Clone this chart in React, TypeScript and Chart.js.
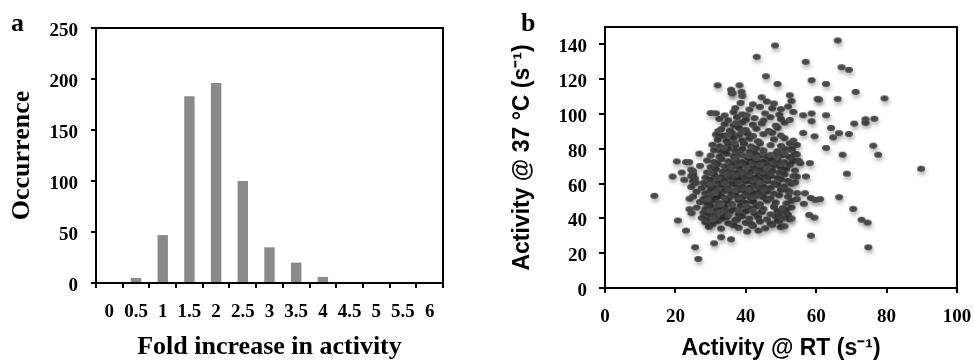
import React, { useLayoutEffect, useRef, useState } from 'react';
import { Chart, registerables } from 'chart.js';

Chart.register(...registerables);

// ---------- Panel a: histogram ----------
const foldCategories = ['0', '0.5', '1', '1.5', '2', '2.5', '3', '3.5', '4', '4.5', '5', '5.5', '6'];
const occurrence = [0, 5, 47, 183, 196, 100, 35, 20, 6, 0, 0, 0, 0];

// ---------- Panel b: scatter (Activity @ RT, Activity @ 37 °C) ----------
const outlierPoints: [number, number][] = [
  [14, 53], [48.3, 139.4], [43.1, 132.9], [66.1, 142.3], [57, 130], [67.2, 126.9], [69.3, 125.4],
  [45.7, 121.7], [32, 116.5], [49, 117.3], [58.7, 119.4], [62.8, 117.3], [71.2, 112.7], [79.4, 109],
  [89.8, 68.5], [76.5, 97.3], [74, 95], [74, 97], [70.8, 94.5], [66.1, 108.7], [69.3, 88.5], [66.5, 89],
  [64.2, 92], [64.8, 86.6], [62.8, 99.3], [60.4, 108.7], [60.8, 108.3], [62.8, 80.5], [67.5, 76.6],
  [76.2, 81.8], [77.6, 76.6], [68.7, 65.7], [66.5, 52.2], [70.5, 45.5], [72.9, 39.2], [74.6, 37.6],
  [74.8, 23.4], [58.7, 100.3], [58.7, 95.8], [59.5, 87.2], [56.3, 89.1], [58.2, 71.8], [57.1, 64.1],
  [58.5, 51.7], [59.7, 50.7], [61.1, 51.1], [58, 42], [59.5, 40.5], [58.5, 30.1], [54.6, 54.5],
  [56.8, 54.5], [56.5, 48.4], [54.5, 51.1], [52.4, 39.6], [49.9, 35], [43.6, 33], [40.4, 32.4],
  [33, 29.2], [35.8, 28], [31, 25.7], [25.6, 23.4], [26.5, 16.7], [20.4, 72.8], [19.2, 64.1],
  [21.8, 66.4], [22.5, 62.2], [20.7, 38.8], [23, 33], [24, 51.3], [24, 45.3], [24.6, 43], [23, 72.4],
  [23.9, 72.4], [26.8, 77.2], [56.3, 99.3], [24.5, 68], [25, 65.5], [25.5, 63], [25.8, 60.5],
  [53, 80], [54, 77], [53.5, 73], [55.5, 71.8], [54.5, 64], [53, 60], [52, 56], [51.5, 45], [52, 42],
  [50, 43], [49.5, 38.5], [53, 40], [35.8, 114], [36.2, 112], [38.2, 116.5], [38.8, 112.7],
];

const clusterPoints: [number, number][] = [
  [29.5, 35.2], [33, 34.1], [36.5, 36], [38, 34.6], [42, 35.8], [45.5, 34.3], [47.5, 36.4], [51, 35.5],
  [28.5, 37.8], [30.5, 36.6], [32, 38.4], [35, 37.2], [37, 38.9], [40, 37.4], [41.5, 36.8], [44, 38.2], [47, 37.1], [49, 38.6],
  [27.5, 40.3], [29, 39.2], [31, 41.1], [33, 39.6], [34.5, 40.8], [37.5, 39.5], [39, 41.3], [41, 39.8], [43.5, 40.6], [46, 39.4], [48.5, 41.2], [50.5, 40.1],
  [28, 43.2], [29.5, 42.1], [31.5, 44.3], [33.5, 42.6], [35.5, 43.9], [38, 42.4], [40, 44.1], [42.5, 42.8], [44.5, 43.7], [47, 42.3], [49, 44.2], [51, 43.1],
  [26, 46.2], [28.5, 45.3], [30, 47.1], [32, 45.6], [34, 46.8], [36.5, 45.2], [38.5, 47.3], [41, 45.8], [43, 46.9], [45, 45.4], [48, 46.6], [50.5, 45.9], [53, 46.3],
  [27, 49.4], [29, 48.3], [30.5, 50.2], [32.5, 48.7], [34.5, 49.9], [36, 48.2], [38, 50.4], [40, 48.9], [42, 49.6], [44, 48.1], [46, 50.3], [48.5, 49.1], [51.5, 48.6], [53, 50.1],
  [25, 52.6], [28, 51.4], [29.5, 53.2], [31.5, 51.8], [33, 52.9], [35, 51.3], [37, 53.4], [39, 52.1], [41.5, 51.6], [43, 53.1], [45, 52.2], [47, 51.5], [49.5, 53.3], [52, 52.4],
  [26, 55.3], [28.5, 54.4], [30, 56.2], [32, 54.8], [34, 55.9], [36, 54.3], [38, 56.4], [40, 55.1], [42, 54.6], [44, 56.1], [46, 55.4], [48, 54.2], [50, 56.3], [52.5, 55.2],
  [24.5, 58.1], [27.5, 57.4], [29.5, 59.2], [31, 57.8], [33, 58.9], [35, 57.3], [37, 59.4], [39, 58.1], [41, 57.6], [43, 59.1], [45, 58.2], [47, 57.5], [49, 59.3], [51, 58.4],
  [25, 61.2], [28, 60.4], [30, 62.1], [32, 60.8], [34, 61.9], [36, 60.3], [38, 62.4], [40, 61.1], [42, 60.6], [44, 62.1], [46, 61.4], [48, 60.2], [50, 62.3], [52, 61.5], [54, 60.7],
  [24.5, 64.3], [28.5, 63.4], [31, 65.2], [33, 63.8], [35, 64.9], [37, 63.3], [39, 65.4], [41, 64.1], [43, 63.6], [45, 65.1], [47, 64.4], [49, 63.2], [51, 65.3], [53.5, 64.2],
  [25, 67.1], [29, 66.4], [31.5, 68.2], [33.5, 66.8], [35.5, 67.9], [37.5, 66.3], [39.5, 68.4], [41.5, 67.1], [43.5, 66.6], [45.5, 68.1], [47.5, 67.4], [49.5, 66.2], [51.5, 68.3], [54, 67.5],
  [27, 70.2], [30, 69.4], [32, 71.2], [34, 69.8], [36, 70.9], [38, 69.3], [40, 71.4], [42, 70.1], [44, 69.6], [46, 71.1], [48, 70.4], [50, 69.2], [52.5, 70.8],
  [29, 73.3], [31, 72.4], [33, 74.2], [35, 72.8], [37, 73.9], [39, 72.3], [41, 74.4], [43, 73.1], [45, 72.6], [47, 74.1], [49, 73.4], [51, 72.2], [53, 74.3], [55, 73.1],
  [30, 76.1], [32.5, 75.4], [34.5, 77.2], [36.5, 75.8], [38.5, 76.9], [40.5, 75.3], [42.5, 77.4], [44, 76.1], [46, 75.6], [48.5, 77.1], [50.5, 76.4], [52.5, 75.2], [54.5, 76.8],
  [31, 79.2], [33, 78.4], [35, 80.1], [37, 78.8], [39, 79.9], [41, 78.3], [43, 80.2], [45, 79.1], [49, 78.6], [51, 80.1], [53, 79.4],
  [30.5, 82.3], [32.5, 81.4], [35, 83.1], [37, 81.8], [39.5, 82.9], [41.5, 81.3], [44, 83.2], [47, 82.1], [50, 81.6], [52.5, 83.1], [54.5, 82.2],
  [32, 85.1], [34.5, 84.4], [36.5, 86.2], [39, 84.8], [41, 85.9], [43.5, 84.3], [48, 85.4], [51, 86.1], [53.5, 84.7],
  [31.5, 88.2], [33.5, 87.4], [36, 89.1], [38, 87.8], [40.5, 88.9], [42, 87.3], [45, 88.4], [47.5, 89.2], [50, 87.6],
  [33, 91.3], [35.5, 90.4], [38, 92.1], [40, 90.8], [43, 91.6], [46.5, 90.3], [49, 92.2],
  [34, 94.1], [36.5, 93.4], [39, 95.2], [42, 93.8], [44.5, 94.6], [48.5, 93.3], [51, 95.1],
  [32.5, 97.2], [35, 96.4], [37.5, 98.1], [40, 96.8], [42.5, 97.6], [45, 96.3], [47, 98.2], [50, 97.1], [52.5, 96.6],
  [30, 100.6], [31.5, 100.4], [34, 99.2], [36.5, 101.1], [39, 99.8], [45.5, 100.3], [49.5, 99.6], [53.5, 101.2],
  [37, 103.4], [41, 102.6], [44, 104.1], [47.5, 103.2], [50, 102.8], [52, 104.3],
  [38.5, 106.3], [42, 105.6], [46, 107.2], [48, 106.1], [53, 107.4],
  [36, 112.1], [39, 110.4], [44.5, 109.6], [52.5, 110.8],
  [34, 51.8], [36, 53.2], [38, 51.9], [40, 53.6], [42, 52.4], [44, 53.9], [35, 57.1], [37, 56.2], [39, 57.3],
  [41, 56.4], [43, 57.8], [45, 56.6], [34, 60.2], [36, 62.6], [38, 60.5], [40, 62.8], [42, 61.9], [44, 60.4],
  [46, 62.7], [35, 65.6], [37, 64.8], [39, 66.2], [41, 65.3], [43, 67.7], [45, 66.5], [47, 65.8], [36, 69.1],
  [38, 71.6], [40, 68.9], [42, 71.7], [44, 70.8], [46, 68.7], [48, 72.1], [50, 71.3], [37, 74.6], [39, 76.2],
  [41, 75.9], [43, 74.8], [45, 77.3], [47, 76.5], [49, 74.9], [51, 77.5], [32, 47.5], [34, 44.8], [36, 47.9],
  [38, 44.6], [40, 47.1], [42, 44.2], [30, 53.9], [32, 56.7], [30, 59.6], [32, 63.1], [30, 66.2], [31, 42.7],
  [33, 48.2], [35, 41.9], [29.8, 44.6], [30.8, 39.8], [32.8, 43.5], [29.2, 50.8], [31.2, 54.6], [33.8, 80.6],
  [34.8, 87.9], [32.2, 90.2], [36.8, 83.5], [38.8, 89.7], [37.2, 94.8], [40.2, 99.3],
];

const SERIF = '"Liberation Serif", "Times New Roman", serif';
const SANS = '"Liberation Sans", Arial, sans-serif';
const CANVAS_H = 360;

// Layout of each panel (padding and fixed axis sizes handed to Chart.js)
const LAYOUT_A = { width: 490, padRight: 47, padTop: 28, yAxisWidth: 96, xAxisHeight: 77, lw: 2, xTick: 5, yTick: 5 };
const LAYOUT_B = { width: 483, padRight: 16, padTop: 27, yAxisWidth: 115, xAxisHeight: 72, lw: 2.5, xTick: 5, yTick: 6 };

type Layout = typeof LAYOUT_A;
type TickGeom = { bottom: number; left: number; xT: number[]; yT: number[] };

function readTicks(chart: any, categoryX: boolean): TickGeom {
  const ca = chart.chartArea;
  const xs = chart.scales.x;
  const ys = chart.scales.y;
  const xT: number[] = [];
  if (categoryX) {
    for (let i = 0; i <= xs.ticks.length; i++) xT.push(xs.getPixelForValue(i - 0.5));
  } else {
    xs.ticks.forEach((_t: any, i: number) => xT.push(xs.getPixelForTick(i)));
  }
  const yT: number[] = ys.ticks.map((_t: any, i: number) => ys.getPixelForTick(i));
  return { bottom: ca.bottom, left: ca.left, xT, yT };
}

function Frame({ L }: { L: Layout }) {
  const left = L.yAxisWidth;
  const top = L.padTop;
  const right = L.width - L.padRight;
  const bottom = CANVAS_H - L.xAxisHeight;
  return (
    <div
      style={{
        position: 'absolute',
        left: left - L.lw / 2,
        top: top - L.lw / 2,
        width: right - left + L.lw,
        height: bottom - top + L.lw,
        border: `${L.lw}px solid #000`,
        boxSizing: 'border-box',
        pointerEvents: 'none',
      }}
    />
  );
}

function TickMarks({ g, L }: { g: TickGeom; L: Layout }) {
  return (
    <>
      {g.yT.map((py, i) => (
        <div key={'y' + i} style={{ position: 'absolute', left: g.left - L.yTick, top: py - 1, width: L.yTick, height: 2, background: '#000' }} />
      ))}
      {g.xT.map((px, i) => (
        <div key={'x' + i} style={{ position: 'absolute', left: px - 1, top: g.bottom, width: 2, height: L.xTick, background: '#000' }} />
      ))}
    </>
  );
}

function tickFont(size: number) {
  return { family: SERIF, weight: 'bold' as const, size };
}

function HistogramChart() {
  const ref = useRef<HTMLCanvasElement | null>(null);
  const [ticks, setTicks] = useState<TickGeom | null>(null);
  const L = LAYOUT_A;
  useLayoutEffect(() => {
    if (!ref.current) return;
    const chart = new Chart(ref.current, {
      type: 'bar',
      data: {
        labels: foldCategories,
        datasets: [{ data: occurrence, backgroundColor: '#8a8a8a', categoryPercentage: 1, barPercentage: 0.39 }],
      },
      options: {
        animation: false,
        responsive: false,
        maintainAspectRatio: false,
        layout: { padding: { left: 0, right: L.padRight, top: L.padTop, bottom: 0 } },
        plugins: { legend: { display: false }, tooltip: { enabled: false } },
        scales: {
          x: {
            grid: { display: false, drawTicks: false },
            border: { display: false },
            ticks: { color: '#000', font: tickFont(19), padding: 18, maxRotation: 0, minRotation: 0, autoSkip: false },
            title: {
              display: true,
              text: 'Fold increase in activity',
              color: '#000',
              font: { family: SERIF, weight: 'bold', size: 26, lineHeight: 1 },
              padding: 0,
            },
            afterFit: (s: any) => { s.height = L.xAxisHeight; s.paddingLeft = 0; s.paddingRight = 0; },
          },
          y: {
            min: 0,
            max: 250,
            grid: { display: false, drawTicks: false },
            border: { display: false },
            ticks: { stepSize: 50, color: '#000', font: tickFont(19), padding: 18, labelOffset: 3 },
            title: {
              display: true,
              text: 'Occurrence',
              color: '#000',
              font: { family: SERIF, weight: 'bold', size: 26, lineHeight: 1 },
              padding: { top: 9, bottom: 0 },
            },
            afterFit: (s: any) => { s.width = L.yAxisWidth; s.paddingTop = 0; s.paddingBottom = 0; },
          },
        },
      },
    });
    setTicks(readTicks(chart, true));
    return () => chart.destroy();
  }, []);
  return (
    <div style={{ position: 'absolute', left: 0, top: 0, width: L.width, height: CANVAS_H }}>
      <canvas ref={ref} width={L.width} height={CANVAS_H} style={{ position: 'absolute', left: 0, top: 0 }} />
      <Frame L={L} />
      {ticks && <TickMarks g={ticks} L={L} />}
    </div>
  );
}

function ScatterChart() {
  const ref = useRef<HTMLCanvasElement | null>(null);
  const [ticks, setTicks] = useState<TickGeom | null>(null);
  const L = LAYOUT_B;
  useLayoutEffect(() => {
    if (!ref.current) return;
    const dot = document.createElement('canvas');
    dot.width = 22;
    dot.height = 22;
    const dctx = dot.getContext('2d');
    if (dctx) {
      dctx.save();
      dctx.shadowColor = 'rgba(0,0,0,0.35)';
      dctx.shadowBlur = 4;
      dctx.shadowOffsetX = 1;
      dctx.shadowOffsetY = 3;
      dctx.fillStyle = '#4a4a4a';
      dctx.beginPath();
      dctx.ellipse(11, 11, 4, 3, 0, 0, Math.PI * 2);
      dctx.fill();
      dctx.restore();
    }
    const pts = [...outlierPoints, ...clusterPoints].map(([x, y]) => ({ x, y }));
    const chart = new Chart(ref.current, {
      type: 'scatter',
      data: {
        datasets: [{ data: pts, pointStyle: dot as any, pointRadius: 4, backgroundColor: '#4a4a4a', borderWidth: 0 }],
      },
      options: {
        animation: false,
        responsive: false,
        maintainAspectRatio: false,
        layout: { padding: { left: 0, right: L.padRight, top: L.padTop, bottom: 0 } },
        plugins: { legend: { display: false }, tooltip: { enabled: false } },
        scales: {
          x: {
            type: 'linear',
            min: 0,
            max: 100,
            grid: { display: false, drawTicks: false },
            border: { display: false },
            ticks: { stepSize: 20, color: '#000', font: tickFont(19), padding: 18, maxRotation: 0 },
            title: {
              display: true,
              text: 'Activity @ RT (s⁻¹)',
              color: '#000',
              font: { family: SANS, weight: 'bold', size: 23, lineHeight: 1 },
              padding: 0,
            },
            afterFit: (s: any) => { s.height = L.xAxisHeight; s.paddingLeft = 0; s.paddingRight = 0; },
          },
          y: {
            min: 0,
            max: 150,
            grid: { display: false, drawTicks: false },
            border: { display: false },
            ticks: { stepSize: 20, includeBounds: false, color: '#000', font: tickFont(19), padding: 18, labelOffset: 3 },
            title: {
              display: true,
              text: 'Activity @ 37 °C (s⁻¹)',
              color: '#000',
              font: { family: SANS, weight: 'bold', size: 23, lineHeight: 1 },
              padding: { top: 21, bottom: 0 },
            },
            afterFit: (s: any) => { s.width = L.yAxisWidth; s.paddingTop = 0; s.paddingBottom = 0; },
          },
        },
      },
    });
    setTicks(readTicks(chart, false));
    return () => chart.destroy();
  }, []);
  return (
    <div style={{ position: 'absolute', left: 490, top: 0, width: L.width, height: CANVAS_H }}>
      <canvas ref={ref} width={L.width} height={CANVAS_H} style={{ position: 'absolute', left: 0, top: 0 }} />
      <Frame L={L} />
      {ticks && <TickMarks g={ticks} L={L} />}
    </div>
  );
}

const panelLabel: React.CSSProperties = {
  position: 'absolute',
  fontFamily: SERIF,
  fontWeight: 'bold',
  fontSize: 26,
  lineHeight: '26px',
  color: '#000',
};

export default function App() {
  return (
    <div style={{ position: 'absolute', left: 0, top: 0, width: 973, height: 360, background: '#fff' }}>
      <HistogramChart />
      <ScatterChart />
      <span style={{ ...panelLabel, left: 11, top: 10 }}>a</span>
      <span style={{ ...panelLabel, left: 521, top: 10 }}>b</span>
    </div>
  );
}
